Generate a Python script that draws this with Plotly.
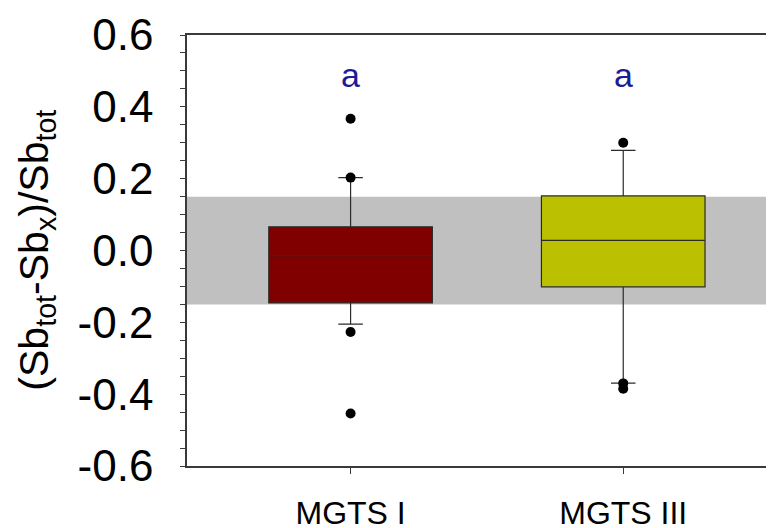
import plotly.graph_objects as go

# ---- data ----
categories = ["MGTS I", "MGTS III"]
q1 = [-0.146, -0.101]
median = [-0.014, 0.028]
q3 = [0.066, 0.152]
lower_whisker = [-0.205, -0.369]
upper_whisker = [0.203, 0.279]
box_colors = ["#800000", "#bbc100"]

outlier_x = ["MGTS I", "MGTS I", "MGTS I", "MGTS I",
             "MGTS III", "MGTS III", "MGTS III"]
outlier_y = [0.367, 0.203, -0.227, -0.454,
             0.300, -0.370, -0.385]

letters = ["a", "a"]
letter_y = 0.49

band_low, band_high = -0.15, 0.15

y_tickvals = [-0.6, -0.4, -0.2, 0.0, 0.2, 0.4, 0.6]
y_ticktext = ["-0.6", "-0.4", "-0.2", "0.0", "0.2", "0.4", "0.6"]

FONT = "Liberation Sans, Arial, sans-serif"

fig = go.Figure()

for i, cat in enumerate(categories):
    fig.add_trace(go.Box(
        x=[cat],
        q1=[q1[i]], median=[median[i]], q3=[q3[i]],
        lowerfence=[lower_whisker[i]], upperfence=[upper_whisker[i]],
        boxpoints=False,
        fillcolor=box_colors[i],
        line=dict(color="#2b2b2b", width=1.2),
        width=0.6,
        whiskerwidth=0.15,
        showlegend=False,
        hoverinfo="skip",
    ))

fig.add_trace(go.Scatter(
    x=outlier_x, y=outlier_y, mode="markers",
    marker=dict(color="black", size=10),
    showlegend=False, hoverinfo="skip",
))

fig.add_shape(type="rect", xref="paper", yref="y", x0=0, x1=1,
              y0=band_low, y1=band_high, fillcolor="#c0c0c0",
              line=dict(width=0), layer="below")

for cat, t in zip(categories, letters):
    fig.add_annotation(x=cat, y=letter_y, text=t, showarrow=False,
                       xref="x", yref="y", yanchor="middle",
                       font=dict(family=FONT, size=34, color="#1c1c96"))

fig.add_annotation(
    text="(Sb<sub>tot</sub>-Sb<sub>x</sub>)/Sb<sub>tot</sub>",
    xref="paper", yref="paper", x=-0.257, y=0.5,
    xanchor="center", yanchor="middle", textangle=-90, showarrow=False,
    font=dict(family=FONT, size=41, color="black"))

# the page body adds an 8px offset, so the figure is 8px smaller and shifted
fig.update_layout(
    width=766, height=520,
    margin=dict(l=179, r=0, t=27, b=62, autoexpand=False),
    paper_bgcolor="white", plot_bgcolor="white",
    font=dict(family=FONT, color="black"),
)

fig.update_xaxes(
    type="category", categoryorder="array", categoryarray=categories,
    range=[-0.6, 1.553], automargin=False,
    showgrid=False, zeroline=False,
    showline=True, linecolor="#3a3a3a", linewidth=1.5, mirror=True,
    ticks="outside", ticklen=6, tickcolor="#3a3a3a",
    tickfont=dict(family=FONT, size=32, color="black"),
    ticklabelstandoff=12,
)

fig.update_yaxes(
    range=[-0.6, 0.6], automargin=False,
    tickvals=y_tickvals, ticktext=y_ticktext,
    showgrid=False, zeroline=False,
    showline=True, linecolor="#3a3a3a", linewidth=1.5,
    ticks="outside", ticklen=5, tickcolor="#3a3a3a",
    minor=dict(dtick=0.05, ticks="outside", ticklen=5, tickcolor="#3a3a3a", showgrid=False),
    tickfont=dict(family=FONT, size=44, color="black"),
    ticklabelstandoff=18,
)

fig.write_html("out.html")
